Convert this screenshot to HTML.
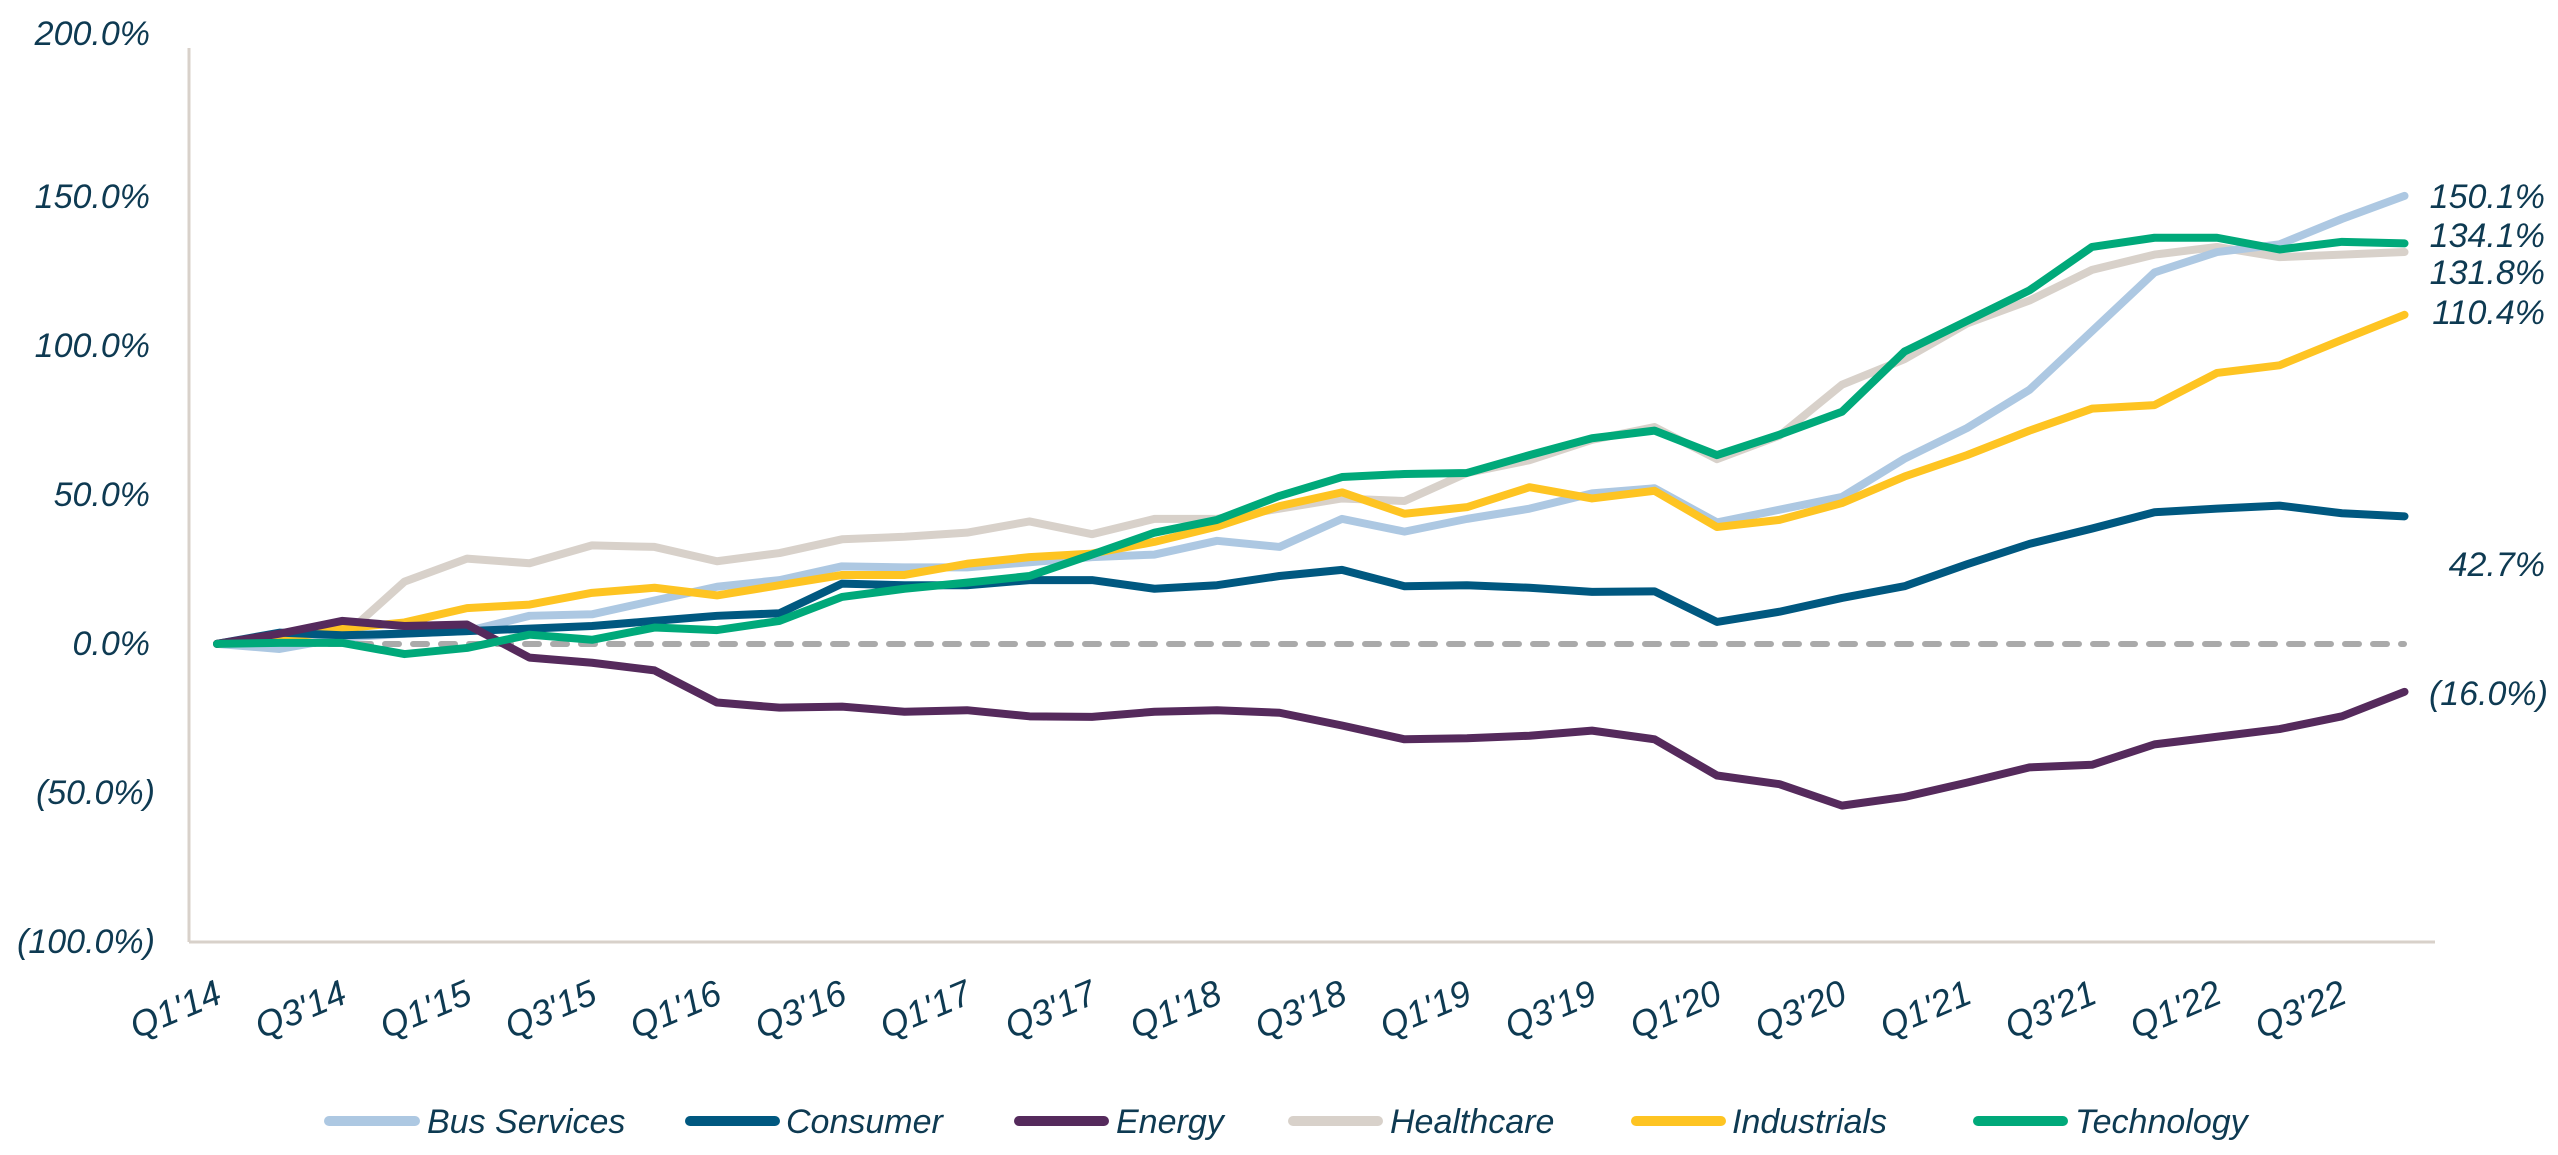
<!DOCTYPE html>
<html><head><meta charset="utf-8"><style>
html,body{margin:0;padding:0;background:#fff;}
svg{display:block;}
text{font-family:"Liberation Sans",sans-serif;font-style:italic;fill:#0e3a52;}
</style></head><body>
<svg width="2558" height="1155" viewBox="0 0 2558 1155" xmlns="http://www.w3.org/2000/svg">
<g font-size="34" text-anchor="end">
<text x="150" y="45">200.0%</text>
<text x="150" y="208">150.0%</text>
<text x="150" y="357">100.0%</text>
<text x="150" y="506">50.0%</text>
<text x="150" y="655">0.0%</text>
<text x="155" y="804">(50.0%)</text>
<text x="155" y="953">(100.0%)</text>
</g>
<line x1="189" y1="48" x2="189" y2="942" stroke="#d8d1ca" stroke-width="3"/>
<line x1="189" y1="942" x2="2435" y2="942" stroke="#d8d1ca" stroke-width="3"/>
<line x1="217" y1="644" x2="2404" y2="644" stroke="#aaa" stroke-width="6" stroke-dasharray="14 14" stroke-linecap="round"/>
<g transform="translate(217,200) scale(62.5,0.5102)" fill="none" stroke-width="8" stroke-linejoin="round" stroke-linecap="round">
<polyline vector-effect="non-scaling-stroke" stroke="#d8d1ca" points="0,870 1,870 2,858 3,748 4,703 5,712 6,677 7,680 8,708 9,692 10,665 11,660 12,652 13,630 14,655 15,625 16,625 17,605 18,585 19,590 20,535 21,510 22,470 23,445 24,508 25,462 26,362 27,312 28,242 29,197 30,137 31,107 32,92 33,112 34,107 35,102"/>
<polyline vector-effect="non-scaling-stroke" stroke="#adc8e2" points="0,870 1,880 2,858 3,850 4,845 5,815 6,812 7,785 8,758 9,745 10,718 11,720 12,720 13,710 14,700 15,695 16,668 17,680 18,625 19,650 20,625 21,605 22,575 23,565 24,632 25,607 26,582 27,507 28,447 29,372 30,257 31,142 32,102 33,87 34,37 35,-8"/>
<polyline vector-effect="non-scaling-stroke" stroke="#fec422" points="0,870 1,862 2,840 3,828 4,800 5,793 6,770 7,760 8,775 9,755 10,735 11,735 12,713 13,700 14,693 15,670 16,640 17,600 18,573 19,615 20,602 21,563 22,585 23,570 24,641 25,627 26,594 27,542 28,500 29,452 30,409 31,402 32,339 33,324 34,274 35,225"/>
<polyline vector-effect="non-scaling-stroke" stroke="#005880" points="0,870 1,848 2,853 3,850 4,845 5,840 6,835 7,825 8,815 9,810 10,752 11,755 12,755 13,745 14,745 15,762 16,755 17,737 18,725 19,757 20,755 21,760 22,768 23,767 24,827 25,807 26,780 27,757 28,714 29,674 30,644 31,612 32,605 33,599 34,614 35,620"/>
<polyline vector-effect="non-scaling-stroke" stroke="#552a5c" points="0,870 1,850 2,825 3,835 4,832 5,897 6,907 7,922 8,985 9,995 10,993 11,1003 12,1000 13,1012 14,1013 15,1003 16,1000 17,1005 18,1030 19,1057 20,1055 21,1050 22,1040 23,1057 24,1128 25,1145 26,1187 27,1170 28,1142 29,1112 30,1107 31,1067 32,1052 33,1037 34,1012 35,964"/>
<polyline vector-effect="non-scaling-stroke" stroke="#00a97a" points="0,870 1,868 2,868 3,890 4,878 5,852 6,862 7,838 8,843 9,825 10,778 11,762 12,750 13,737 14,695 15,652 16,627 17,580 18,543 19,537 20,535 21,500 22,467 23,452 24,500 25,460 26,415 27,297 28,237 29,177 30,92 31,74 32,74 33,97 34,82 35,85"/>
</g>
<g font-size="34" text-anchor="end">
<text x="2545" y="208">150.1%</text>
<text x="2545" y="247">134.1%</text>
<text x="2545" y="284">131.8%</text>
<text x="2545" y="324">110.4%</text>
<text x="2545" y="576">42.7%</text>
<text x="2548" y="705">(16.0%)</text>
</g>
<g font-size="36" text-anchor="end">
<text transform="translate(224,1002) rotate(-23)">Q1'14</text>
<text transform="translate(349,1002) rotate(-23)">Q3'14</text>
<text transform="translate(474,1002) rotate(-23)">Q1'15</text>
<text transform="translate(599,1002) rotate(-23)">Q3'15</text>
<text transform="translate(724,1002) rotate(-23)">Q1'16</text>
<text transform="translate(849,1002) rotate(-23)">Q3'16</text>
<text transform="translate(974,1002) rotate(-23)">Q1'17</text>
<text transform="translate(1099,1002) rotate(-23)">Q3'17</text>
<text transform="translate(1224,1002) rotate(-23)">Q1'18</text>
<text transform="translate(1349,1002) rotate(-23)">Q3'18</text>
<text transform="translate(1474,1002) rotate(-23)">Q1'19</text>
<text transform="translate(1599,1002) rotate(-23)">Q3'19</text>
<text transform="translate(1724,1002) rotate(-23)">Q1'20</text>
<text transform="translate(1849,1002) rotate(-23)">Q3'20</text>
<text transform="translate(1974,1002) rotate(-23)">Q1'21</text>
<text transform="translate(2099,1002) rotate(-23)">Q3'21</text>
<text transform="translate(2224,1002) rotate(-23)">Q1'22</text>
<text transform="translate(2349,1002) rotate(-23)">Q3'22</text>
</g>
<g stroke-width="10" stroke-linecap="round">
<line x1="329" y1="1121" x2="415" y2="1121" stroke="#adc8e2"/>
<line x1="690" y1="1121" x2="775" y2="1121" stroke="#005880"/>
<line x1="1019" y1="1121" x2="1104" y2="1121" stroke="#552a5c"/>
<line x1="1293" y1="1121" x2="1378" y2="1121" stroke="#d8d1ca"/>
<line x1="1636" y1="1121" x2="1721" y2="1121" stroke="#fec422"/>
<line x1="1978" y1="1121" x2="2063" y2="1121" stroke="#00a97a"/>
</g>
<g font-size="34">
<text x="427" y="1133">Bus Services</text>
<text x="786" y="1133">Consumer</text>
<text x="1116" y="1133">Energy</text>
<text x="1390" y="1133">Healthcare</text>
<text x="1732" y="1133">Industrials</text>
<text x="2075" y="1133">Technology</text>
</g>
</svg>
</body></html>
